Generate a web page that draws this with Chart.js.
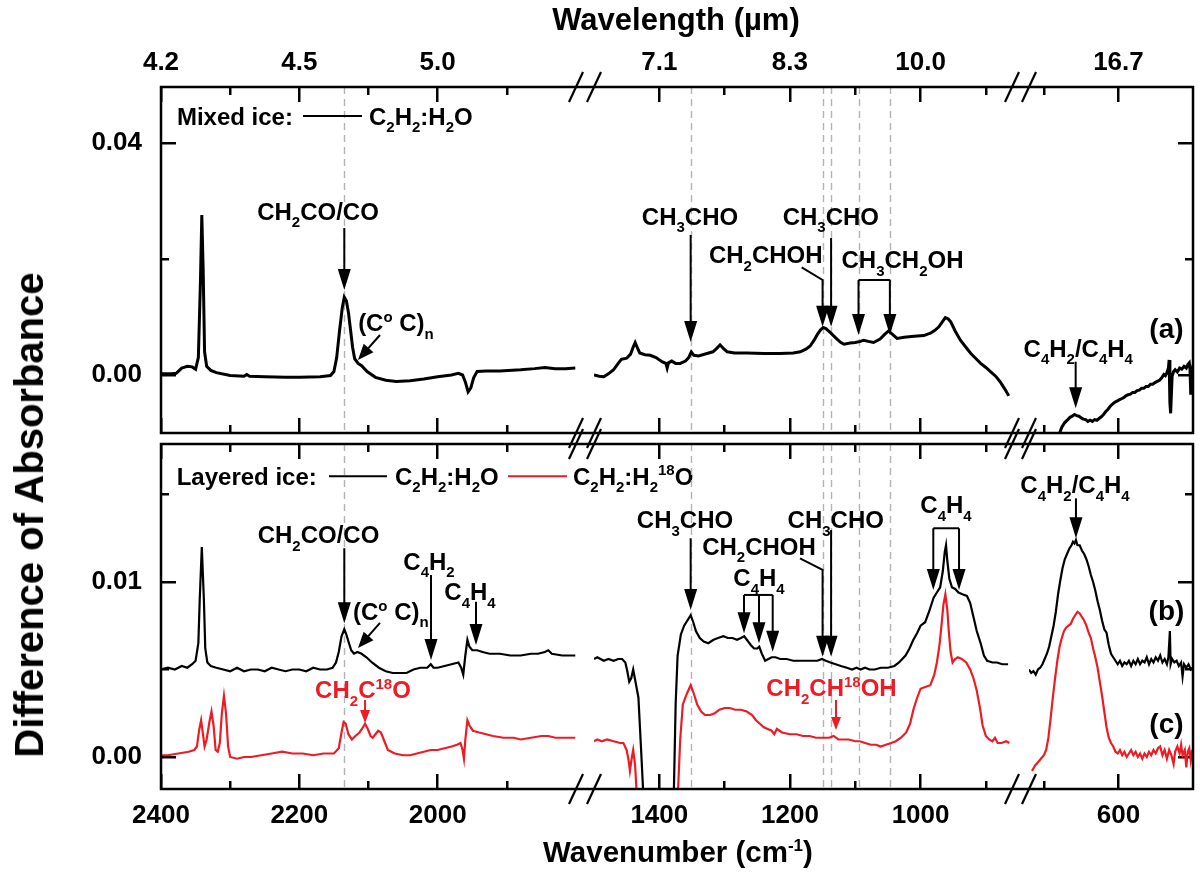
<!DOCTYPE html>
<html lang="en">
<head>
<meta charset="utf-8">
<title>C2H2:H2O ice difference spectra</title>
<style>
  body { margin: 0; background: #fff; }
  #wrap { position: relative; width: 1200px; height: 880px; overflow: hidden; background: #fff;
          font-family: "Liberation Sans", Arial, Helvetica, sans-serif; }
  #wrap canvas { position: absolute; left: 0; top: 0; }
  .ttl { position: absolute; z-index: 5; font-weight: bold; font-size: 31px; color: #000; white-space: nowrap;
         transform: translate(-50%, -50%); line-height: 1; }
  .ttl sup { font-size: 17px; vertical-align: 0.65em; line-height: 0; }
  #tX { font-size: 29.5px; }
  #tY { transform: translate(-50%, -50%) rotate(-90deg); font-size: 40px; }
</style>
</head>
<body>
<div id="wrap">
  <div class="ttl" style="left:676px; top:19px;">Wavelength (µm)</div>
  <div class="ttl" id="tX" style="left:678px; top:852px;">Wavenumber (cm<sup>-1</sup>)</div>
  <div class="ttl" id="tY" style="left:29px; top:515px;">Difference of Absorbance</div>
</div>

<script src="https://cdn.jsdelivr.net/npm/chart.js/dist/chart.umd.min.js"></script>
<script>
// ---- data ----
// ticks
const majorWn = [2400, 2200, 2000, 1400, 1200, 1000, 600];
const minorWn = [2300, 2100, 1900, 1300, 1100, 900, 700];
const wavelengthLabels = ['4.2', '4.5', '5.0', '7.1', '8.3', '10.0', '16.7'];
const yMajorTop = [0, 0.04];
const yMinorTop = [0.02];
const yMajorBot = [0, 0.01];
const yMinorBot = [0.005, 0.015];
// dashed guide lines
const markerWn = [2135, 1352, 1150, 1137, 1095, 1047];

// (a) mixed ice C2H2:H2O
const wnA1 = [2400,2385,2378,2370,2362,2355,2350,2346,2343,2341,2339,2337,2334,2328,2320,2300,2280,2276,2272,2250,2220,2200,2170,2155,2150,2146,2142,2138,2135,2132,2129,2126,2123,2120,2115,2110,2102,2090,2075,2060,2040,2020,2000,1980,1970,1964,1960,1956,1952,1948,1943,1930,1910,1880,1860,1845,1830,1815,1801];
const absA1 = [0.0002,0.0002,0.0003,0.0012,0.0015,0.0014,0.0010,0.0030,0.0160,0.0276,0.0180,0.0040,0.0015,0.0008,0.0004,-0.0001,-0.0002,0.0001,-0.0002,-0.0003,-0.0004,-0.0004,-0.0003,-0.0001,0.0006,0.0030,0.0075,0.0115,0.0134,0.0128,0.0108,0.0078,0.0048,0.0028,0.0020,0.0016,0.0006,-0.0004,-0.0009,-0.0011,-0.0010,-0.0007,-0.0003,0.0000,0.0003,0.0000,-0.0012,-0.0029,-0.0022,-0.0005,0.0006,0.0007,0.0007,0.0009,0.0011,0.0013,0.0011,0.0011,0.0012];
const wnA2 = [1500,1492,1485,1478,1470,1463,1458,1450,1444,1440,1437,1434,1430,1422,1414,1405,1396,1390,1388,1386,1381,1375,1368,1360,1355,1351,1347,1340,1327,1318,1312,1307,1302,1296,1285,1266,1240,1215,1195,1184,1175,1169,1163,1158,1153,1149,1145,1138,1130,1122,1117,1108,1100,1092,1087,1080,1072,1062,1055,1049,1043,1036,1025,1010,995,985,978,972,967,962,958,954,947,939,930,923,915,908,900,893,885,878,870,865];
const absA2 = [0.0000,-0.0002,-0.0003,0.0002,0.0009,0.0020,0.0027,0.0029,0.0036,0.0048,0.0056,0.0048,0.0038,0.0035,0.0034,0.0030,0.0023,0.0020,0.0012,0.0021,0.0024,0.0020,0.0020,0.0024,0.0030,0.0040,0.0034,0.0033,0.0037,0.0040,0.0046,0.0052,0.0046,0.0040,0.0038,0.0038,0.0037,0.0037,0.0038,0.0040,0.0045,0.0050,0.0060,0.0070,0.0078,0.0082,0.0080,0.0073,0.0064,0.0056,0.0053,0.0055,0.0056,0.0058,0.0060,0.0058,0.0056,0.0062,0.0070,0.0076,0.0070,0.0063,0.0065,0.0067,0.0068,0.0072,0.0077,0.0083,0.0091,0.0099,0.0097,0.0092,0.0076,0.0060,0.0047,0.0037,0.0028,0.0020,0.0013,0.0006,-0.0002,-0.0012,-0.0026,-0.0036];
const wnA3 = [684,680,676,672,668,665,662,659,656,653,650,647,644,641,638,635,632,629,626,623,620,617,614,611,608,605,602,599,596,593,590,587,584,581,578,575,572,569,566,563,560,557,554,551,548,545,542,539,537,535,533,532,531,530,528,526,524,521,518,515,512,509,507,505,504,503,502,501];
const absA3 = [-0.0125,-0.0104,-0.0090,-0.0082,-0.0077,-0.0073,-0.0071,-0.0068,-0.0070,-0.0071,-0.0074,-0.0076,-0.0077,-0.0080,-0.0078,-0.0080,-0.0077,-0.0078,-0.0075,-0.0072,-0.0068,-0.0063,-0.0059,-0.0054,-0.0050,-0.0047,-0.0045,-0.0043,-0.0041,-0.0039,-0.0036,-0.0034,-0.0033,-0.0030,-0.0030,-0.0027,-0.0026,-0.0023,-0.0023,-0.0020,-0.0020,-0.0016,-0.0016,-0.0013,-0.0011,-0.0009,-0.0005,0.0001,-0.0001,0.0004,0.0012,0.0026,-0.0048,-0.0066,-0.0002,0.0006,0.0009,0.0005,0.0012,0.0010,0.0015,0.0012,0.0018,0.0021,0.0010,-0.0034,0.0008,0.0004];

// (b) layered ice C2H2:H2O
const wnB1 = [2400,2390,2380,2370,2362,2355,2350,2346,2344,2341,2338,2336,2333,2328,2320,2310,2300,2290,2280,2270,2260,2250,2240,2230,2220,2210,2200,2190,2180,2170,2160,2152,2147,2143,2139,2135,2132,2129,2125,2121,2116,2110,2103,2095,2085,2075,2065,2055,2045,2035,2025,2015,2010,2006,2000,1990,1980,1970,1966,1963,1960,1957,1954,1950,1943,1935,1925,1910,1895,1880,1865,1855,1845,1840,1835,1820,1810,1801];
const absB1 = [0.0050,0.0051,0.0050,0.0052,0.0051,0.0053,0.0055,0.0065,0.0090,0.0120,0.0090,0.0062,0.0054,0.0052,0.0051,0.0050,0.0049,0.0051,0.0049,0.0050,0.0050,0.0049,0.0051,0.0050,0.0049,0.0050,0.0050,0.0049,0.0051,0.0050,0.0050,0.0051,0.0054,0.0060,0.0069,0.0073,0.0070,0.0066,0.0061,0.0059,0.0060,0.0059,0.0057,0.0054,0.0051,0.0049,0.0048,0.0048,0.0048,0.0050,0.0051,0.0051,0.0053,0.0051,0.0051,0.0052,0.0053,0.0054,0.0051,0.0047,0.0058,0.0067,0.0063,0.0061,0.0061,0.0060,0.0059,0.0059,0.0058,0.0058,0.0059,0.0059,0.0060,0.0061,0.0059,0.0058,0.0058,0.0058];
const wnB2 = [1500,1495,1490,1485,1478,1470,1463,1457,1452,1449,1446,1443,1440,1436,1432,1428,1424,1378,1375,1372,1367,1362,1357,1352,1348,1344,1338,1332,1325,1317,1310,1302,1295,1288,1281,1275,1270,1266,1260,1255,1250,1247,1243,1238,1233,1228,1222,1215,1205,1195,1185,1175,1165,1158,1151,1145,1138,1130,1122,1113,1105,1098,1092,1085,1078,1070,1061,1050,1040,1033,1028,1023,1017,1011,1005,1000,993,987,980,975,970,966,963,961,959,956,952,947,942,936,929,924,919,914,908,903,898,890,883,875,866];
const absB2 = [0.0056,0.0057,0.0056,0.0055,0.0056,0.0055,0.0056,0.0056,0.0054,0.0049,0.0043,0.0045,0.0050,0.0042,0.0034,0.0005,-0.0025,-0.0025,0.0030,0.0058,0.0070,0.0075,0.0078,0.0081,0.0077,0.0072,0.0068,0.0066,0.0065,0.0067,0.0068,0.0069,0.0068,0.0068,0.0067,0.0068,0.0069,0.0067,0.0064,0.0062,0.0062,0.0063,0.0059,0.0055,0.0056,0.0057,0.0057,0.0056,0.0056,0.0055,0.0055,0.0055,0.0055,0.0055,0.0056,0.0055,0.0054,0.0053,0.0052,0.0051,0.0050,0.0051,0.0050,0.0051,0.0050,0.0050,0.0051,0.0051,0.0052,0.0054,0.0056,0.0058,0.0062,0.0067,0.0071,0.0075,0.0077,0.0083,0.0091,0.0094,0.0097,0.0106,0.0117,0.0121,0.0112,0.0102,0.0097,0.0096,0.0094,0.0093,0.0092,0.0088,0.0080,0.0072,0.0065,0.0058,0.0055,0.0054,0.0054,0.0053,0.0053];
const wnB3 = [720,717,714,711,708,705,702,699,696,693,690,687,684,681,678,675,672,669,666,663,661,659,657,655,652,649,646,643,640,637,634,631,628,625,622,619,616,613,610,607,604,601,598,595,592,589,586,583,580,577,574,571,568,565,562,559,556,553,550,547,544,541,538,535,533,531,530,528,525,522,519,516,514,512,509,506,503,501];
const absB3 = [0.0050,0.0048,0.0049,0.0047,0.0050,0.0051,0.0053,0.0056,0.0059,0.0063,0.0069,0.0075,0.0083,0.0093,0.0101,0.0108,0.0113,0.0116,0.0119,0.0121,0.0123,0.0122,0.0124,0.0121,0.0121,0.0118,0.0116,0.0113,0.0109,0.0104,0.0100,0.0095,0.0089,0.0084,0.0078,0.0073,0.0071,0.0064,0.0059,0.0057,0.0055,0.0053,0.0055,0.0052,0.0054,0.0053,0.0055,0.0052,0.0055,0.0053,0.0056,0.0053,0.0055,0.0054,0.0057,0.0053,0.0056,0.0054,0.0057,0.0055,0.0058,0.0054,0.0056,0.0053,0.0057,0.0072,0.0053,0.0056,0.0054,0.0055,0.0052,0.0054,0.0046,0.0053,0.0051,0.0053,0.0050,0.0051];

// (c) layered ice C2H2:H2(18)O
const wnC1 = [2400,2390,2375,2360,2352,2348,2345,2342,2339,2337,2334,2330,2327,2324,2321,2318,2315,2312,2309,2306,2303,2300,2290,2280,2270,2255,2240,2225,2210,2195,2180,2165,2150,2143,2139,2136,2133,2129,2124,2119,2113,2108,2105,2101,2097,2094,2090,2086,2082,2077,2072,2062,2050,2040,2030,2020,2010,2000,1990,1980,1972,1967,1964,1962,1960,1957,1954,1949,1940,1930,1920,1905,1890,1880,1865,1850,1840,1830,1815,1801];
const absC1 = [0.0001,0.0001,0.0002,0.0003,0.0004,0.0006,0.0015,0.0021,0.0012,0.0006,0.0010,0.0020,0.0026,0.0018,0.0004,0.0003,0.0008,0.0025,0.0035,0.0025,0.0006,0.0000,-0.0001,0.0000,0.0000,0.0001,0.0002,0.0003,0.0002,0.0002,0.0001,0.0002,0.0002,0.0005,0.0014,0.0020,0.0019,0.0013,0.0010,0.0012,0.0014,0.0017,0.0019,0.0016,0.0012,0.0011,0.0013,0.0015,0.0014,0.0009,0.0004,0.0002,0.0001,0.0001,0.0002,0.0003,0.0004,0.0004,0.0005,0.0006,0.0007,0.0008,0.0004,-0.0001,0.0010,0.0021,0.0018,0.0015,0.0014,0.0013,0.0012,0.0011,0.0011,0.0010,0.0011,0.0012,0.0012,0.0011,0.0011,0.0011];
const wnC2 = [1500,1495,1488,1480,1470,1460,1455,1450,1447,1445,1442,1440,1437,1434,1372,1368,1364,1358,1352,1347,1342,1336,1330,1322,1315,1308,1300,1292,1284,1275,1266,1258,1252,1246,1240,1234,1228,1224,1220,1212,1200,1190,1180,1170,1160,1150,1140,1133,1126,1118,1110,1100,1093,1085,1076,1068,1061,1053,1045,1038,1030,1022,1016,1011,1006,1000,993,985,979,975,971,968,965,962,959,957,954,951,947,943,937,930,924,919,914,909,905,900,895,890,886,882,876,869,864];
const absC2 = [0.0009,0.0010,0.0009,0.0010,0.0009,0.0008,0.0008,0.0004,-0.0002,-0.0008,0.0000,0.0004,-0.0005,-0.0025,-0.0025,0.0010,0.0030,0.0036,0.0041,0.0036,0.0030,0.0026,0.0024,0.0024,0.0025,0.0027,0.0028,0.0028,0.0027,0.0027,0.0026,0.0024,0.0021,0.0019,0.0017,0.0016,0.0015,0.0013,0.0016,0.0014,0.0013,0.0013,0.0012,0.0012,0.0011,0.0011,0.0011,0.0012,0.0010,0.0010,0.0010,0.0009,0.0009,0.0008,0.0007,0.0007,0.0006,0.0007,0.0008,0.0009,0.0011,0.0014,0.0019,0.0027,0.0033,0.0039,0.0040,0.0041,0.0047,0.0054,0.0064,0.0075,0.0087,0.0093,0.0084,0.0073,0.0060,0.0054,0.0056,0.0057,0.0056,0.0054,0.0050,0.0045,0.0038,0.0028,0.0018,0.0012,0.0010,0.0009,0.0011,0.0008,0.0008,0.0009,0.0008];
const wnC3 = [716,712,708,704,700,697,694,691,688,685,682,679,676,673,670,667,664,661,658,655,652,649,646,643,640,637,634,631,628,625,622,619,616,613,610,607,604,601,598,595,592,589,586,583,580,577,574,571,568,565,562,559,556,553,550,547,544,541,538,535,532,529,526,524,521,518,516,514,511,509,507,505,503,501];
const absC3 = [-0.0008,-0.0005,-0.0003,-0.0001,0.0001,0.0004,0.0011,0.0022,0.0034,0.0045,0.0055,0.0063,0.0068,0.0072,0.0074,0.0075,0.0076,0.0079,0.0081,0.0083,0.0082,0.0080,0.0078,0.0075,0.0071,0.0068,0.0062,0.0057,0.0051,0.0043,0.0035,0.0026,0.0017,0.0011,0.0008,0.0006,0.0003,0.0002,0.0004,0.0001,0.0003,0.0000,0.0002,0.0004,0.0001,0.0003,0.0000,0.0002,-0.0001,0.0002,0.0000,0.0003,0.0001,0.0004,0.0002,0.0005,0.0006,0.0001,0.0004,-0.0001,0.0004,0.0001,-0.0004,0.0003,0.0006,0.0002,0.0007,0.0001,0.0004,-0.0006,0.0003,0.0005,-0.0002,0.0004];

// ---- layout ----
const W = 1200, H = 880;
const FONT = '"Liberation Sans", Arial, Helvetica, sans-serif';
const RED = 'rgb(237,28,36)';
// broken x axis: three pieces, two panels
const SEGS = [
  {min: 1800, max: 2400, left: 161, right: 576},
  {min: 860, max: 1500, left: 594, right: 1012},
  {min: 500, max: 720, left: 1029, right: 1193}
];
const PANELS = [
  {min: -0.0100, max: 0.04966, top: 87, bottom: 433, yMajor: yMajorTop, yMinor: yMinorTop},
  {min: -0.00183, max: 0.017886, top: 444, bottom: 789, yMajor: yMajorBot, yMinor: yMinorBot}
];

const traces = [
  {panel: 0, seg: 0, wn: wnA1, abs: absA1, color: '#000', width: 3},
  {panel: 0, seg: 1, wn: wnA2, abs: absA2, color: '#000', width: 3},
  {panel: 0, seg: 2, wn: wnA3, abs: absA3, color: '#000', width: 3},
  {panel: 1, seg: 0, wn: wnB1, abs: absB1, color: '#000', width: 2.2},
  {panel: 1, seg: 1, wn: wnB2, abs: absB2, color: '#000', width: 2.2},
  {panel: 1, seg: 2, wn: wnB3, abs: absB3, color: '#000', width: 2.2},
  {panel: 1, seg: 0, wn: wnC1, abs: absC1, color: RED, width: 2.2},
  {panel: 1, seg: 1, wn: wnC2, abs: absC2, color: RED, width: 2.2},
  {panel: 1, seg: 2, wn: wnC3, abs: absC3, color: RED, width: 2.2}
];

// annotations, in data coordinates (wavenumber, absorbance)
const T = (x, y, s, o = {}) => Object.assign({t: 'text', x, y, s, align: 'center'}, o);
const A = (pts, o = {}) => Object.assign({t: 'arrow', pts}, o);
const Ln = (pts, o = {}) => Object.assign({t: 'line', pts}, o);

const notes = [
  [
    [
      T(2377, 0.04453, 'Mixed ice:', {align: 'left'}),
      Ln([[2194.7, 0.04466], [2109.4, 0.04466]]),
      T(2099.3, 0.04453, 'C_{2}H_{2}:H_{2}O', {align: 'left'}),
      T(2173, 0.02816, 'CH_{2}CO/CO'),
      A([[2135, 0.02534], [2135, 0.01466]]),
      T(2115, 0.00897, '(C^{o} C)_{n}', {align: 'left'}),
      A([[2083.4, 0.0069], [2115.2, 0.0026]], {len: 16})
    ],
    [
      T(1353, 0.02729, 'CH_{3}CHO'),
      A([[1352, 0.02414], [1352, 0.00569]]),
      T(1237, 0.02069, 'CH_{2}CHOH'),
      A([[1182, 0.01857], [1150, 0.01638], [1150, 0.00833]]),
      T(1137.4, 0.02729, 'CH_{3}CHO'),
      A([[1137, 0.02362], [1137, 0.00833]]),
      T(1027.6, 0.01983, 'CH_{3}CH_{2}OH'),
      Ln([[1095, 0.01638], [1047, 0.01638]]),
      A([[1095, 0.01638], [1095, 0.0069]]),
      A([[1047, 0.01638], [1047, 0.0069]])
    ],
    [
      T(653.9, 0.0046, 'C_{4}H_{2}/C_{4}H_{4}'),
      A([[657.4, 0.00229], [657.4, -0.00574]]),
      T(535.6, 0.00805, '(a)', {size: 28})
    ]
  ],
  [
    [
      T(2377.3, 0.01602, 'Layered ice:', {align: 'left'}),
      Ln([[2157.1, 0.01605], [2073.3, 0.01605]]),
      T(2061.7, 0.01602, 'C_{2}H_{2}:H_{2}O', {align: 'left'}),
      Ln([[1898.3, 0.01605], [1813, 0.01605]], {color: RED}),
      T(1804.4, 0.01602, 'C_{2}H_{2}:H_{2}^{18}O', {align: 'left'}),
      T(2172.3, 0.01269, 'CH_{2}CO/CO'),
      A([[2135, 0.01193], [2135, 0.00764]]),
      T(2122.4, 0.0083, '(C^{o} C)_{n}', {align: 'left'}),
      A([[2083.4, 0.00766], [2115.2, 0.00623]], {len: 16}),
      T(2012.5, 0.01116, 'C_{4}H_{2}'),
      A([[2009.6, 0.0104], [2009.6, 0.00554]]),
      T(1953.3, 0.00943, 'C_{4}H_{4}'),
      A([[1944.6, 0.00887], [1944.6, 0.0064]]),
      T(2108, 0.00383, 'CH_{2}C^{18}O', {color: RED}),
      A([[2105, 0.00326], [2105, 0.00194]], {color: RED, len: 13, hw: 5})
    ],
    [
      T(1360.7, 0.01354, 'CH_{3}CHO'),
      A([[1352, 0.0125], [1352, 0.0084]]),
      T(1247.4, 0.01202, 'CH_{2}CHOH'),
      A([[1184.6, 0.01135], [1150, 0.01069], [1150, 0.00573]]),
      T(1129.8, 0.01354, 'CH_{3}CHO'),
      A([[1137, 0.01297], [1137, 0.00573]]),
      T(1247.4, 0.01023, 'C_{4}H_{4}'),
      Ln([[1270.3, 0.00926], [1226.4, 0.00926]]),
      A([[1270.3, 0.00926], [1270.3, 0.00707]]),
      A([[1247.4, 0.00926], [1247.4, 0.0065]]),
      A([[1226.4, 0.00926], [1226.4, 0.00602]]),
      T(961, 0.0144, 'C_{4}H_{4}'),
      Ln([[980.5, 0.01307], [941.1, 0.01307]]),
      A([[980.5, 0.01307], [980.5, 0.00954]]),
      A([[941.1, 0.01307], [941.1, 0.00954]]),
      T(1136.4, 0.00394, 'CH_{2}CH^{18}OH', {color: RED}),
      A([[1129.5, 0.00326], [1129.5, 0.00154]], {color: RED, len: 13, hw: 5})
    ],
    [
      T(658.3, 0.01554, 'C_{4}H_{2}/C_{4}H_{4}'),
      A([[657, 0.01478], [657, 0.0125]]),
      T(535.6, 0.0084, '(b)', {size: 28}),
      T(535.6, 0.00194, '(c)', {size: 28})
    ]
  ]
];

// ---- drawing helpers ----
function richText(ctx, str, x, y, size, align, color) {
  const parts = [];
  const re = /([_^])\{([^}]*)\}|([^_^]+)/g;
  let m;
  while ((m = re.exec(str))) {
    if (m[3]) parts.push({s: m[3], k: 0});
    else parts.push({s: m[2], k: m[1] === '_' ? 1 : -1});
  }
  const big = 'bold ' + size + 'px ' + FONT;
  const small = 'bold ' + Math.round(size * 0.64) + 'px ' + FONT;
  let w = 0;
  parts.forEach(p => { ctx.font = p.k ? small : big; p.w = ctx.measureText(p.s).width; w += p.w; });
  let cx = align === 'center' ? x - w / 2 : (align === 'right' ? x - w : x);
  const base = y + size * 0.35;
  ctx.fillStyle = color;
  ctx.textAlign = 'left';
  ctx.textBaseline = 'alphabetic';
  parts.forEach(p => {
    ctx.font = p.k ? small : big;
    const dy = p.k === 1 ? size * 0.3 : (p.k === -1 ? -size * 0.4 : 0);
    ctx.fillText(p.s, cx, base + dy);
    cx += p.w;
  });
}

function drawFrame(ctx, top, bottom) {
  const L = SEGS[0].left, R = SEGS[2].right;
  ctx.strokeStyle = '#000';
  ctx.setLineDash([]);
  ctx.lineWidth = 2.5;
  ctx.strokeRect(L, top, R - L, bottom - top);
  const breaks = [SEGS[0].right, SEGS[1].left, SEGS[1].right, SEGS[2].left];
  ctx.lineWidth = 2.2;
  [top, bottom].forEach(y => breaks.forEach(bx => {
    ctx.beginPath();
    ctx.moveTo(bx - 7, y + 15);
    ctx.lineTo(bx + 7, y - 15);
    ctx.stroke();
  }));
}

function makeDeco(list, frame) {
  return {
    id: 'deco',
    beforeDatasetsDraw(chart) {
      const {ctx, chartArea: a, scales: {x}} = chart;
      ctx.save();
      ctx.strokeStyle = '#b3b3b3';
      ctx.lineWidth = 1.4;
      ctx.setLineDash([7, 5]);
      markerWn.forEach(w => {
        if (w < x.min || w > x.max) return;
        const px = Math.round(x.getPixelForValue(w)) + 0.5;
        ctx.beginPath(); ctx.moveTo(px, a.top); ctx.lineTo(px, a.bottom); ctx.stroke();
      });
      ctx.restore();
    },
    afterDraw(chart) {
      const {ctx, chartArea: a, scales: {x, y}} = chart;
      const toPx = q => [x.getPixelForValue(q[0]), y.getPixelForValue(q[1])];
      ctx.save();
      list.forEach(n => {
        const col = n.color || '#000';
        if (n.t === 'text') {
          const [tx, ty] = toPx([n.x, n.y]);
          richText(ctx, n.s, tx, ty, n.size || 24, n.align, col);
          return;
        }
        const pts = n.pts.map(toPx);
        const len = n.len || 21, hw = n.hw || 6.5;
        let end = pts[pts.length - 1];
        let ang = 0;
        if (n.t === 'arrow') {
          const prev = pts[pts.length - 2];
          ang = Math.atan2(end[1] - prev[1], end[0] - prev[0]);
          end = [end[0] - (len - 2) * Math.cos(ang), end[1] - (len - 2) * Math.sin(ang)];
        }
        ctx.strokeStyle = col; ctx.fillStyle = col;
        ctx.lineWidth = 2; ctx.setLineDash([]);
        ctx.beginPath();
        ctx.moveTo(pts[0][0], pts[0][1]);
        for (let i = 1; i < pts.length - 1; i++) ctx.lineTo(pts[i][0], pts[i][1]);
        ctx.lineTo(end[0], end[1]);
        ctx.stroke();
        if (n.t === 'arrow') {
          const [tx, ty] = pts[pts.length - 1];
          const bx = tx - len * Math.cos(ang), by = ty - len * Math.sin(ang);
          ctx.beginPath();
          ctx.moveTo(tx, ty);
          ctx.lineTo(bx + hw * Math.sin(ang), by - hw * Math.cos(ang));
          ctx.lineTo(bx - hw * Math.sin(ang), by + hw * Math.cos(ang));
          ctx.closePath();
          ctx.fill();
        }
      });
      if (frame) drawFrame(ctx, a.top, a.bottom);
      ctx.restore();
    }
  };
}

// each scale gets a fixed box size; labelled scales take the whole margin,
// the others are zero-sized so their ticks sit on the plot edge
function axis(pos, list, len, showLabels, labelFn, pad, min, max, rev, show, size) {
  return {
    type: 'linear', position: pos, min: min, max: max, reverse: rev, display: show,
    weight: size > 0 ? 1 : 0,
    afterFit: sc => { if (sc.isHorizontal()) sc.height = size; else sc.width = size; },
    afterBuildTicks: sc => { sc.ticks = list.filter(v => v >= min && v <= max).map(v => ({value: v})); },
    grid: {drawOnChartArea: false, drawTicks: true, tickLength: -len, color: '#000', lineWidth: 2.5},
    border: {display: false},
    ticks: {
      display: showLabels, autoSkip: false, maxRotation: 0, minRotation: 0, padding: pad,
      color: '#000', font: {family: FONT, size: 26, weight: 'bold'},
      callback: labelFn || (() => '')
    }
  };
}

const wrap = document.getElementById('wrap');
const title = wrap.firstElementChild;

PANELS.forEach((pan, p) => SEGS.forEach((seg, s) => {
  const cv = document.createElement('canvas');
  cv.width = W; cv.height = H;
  cv.style.width = W + 'px'; cv.style.height = H + 'px';
  wrap.insertBefore(cv, title);

  const datasets = traces.filter(t => t.panel === p && t.seg === s).map(t => ({
    data: t.wn.map((w, i) => ({x: w, y: t.abs[i]})),
    borderColor: t.color,
    borderWidth: t.width,
    pointRadius: 0,
    fill: false,
    tension: 0,
    xAxisID: 'x',
    yAxisID: 'y'
  }));

  const botLab = p === 1 ? H - pan.bottom : 0;
  const topLab = p === 0 ? pan.top : 0;
  const leftLab = s === 0 ? seg.left : 0;

  new Chart(cv, {
    type: 'line',
    data: {datasets},
    options: {
      responsive: false,
      animation: false,
      events: [],
      layout: {padding: {
        left: seg.left - leftLab, right: W - seg.right,
        top: pan.top - topLab, bottom: H - pan.bottom - botLab
      }},
      plugins: {legend: {display: false}, tooltip: {enabled: false}},
      scales: {
        x: axis('bottom', majorWn, 15, p === 1, v => String(v), 26, seg.min, seg.max, true, true, botLab),
        xm: axis('bottom', minorWn, 8, false, null, 0, seg.min, seg.max, true, true, 0),
        xt: axis('top', majorWn, 15, p === 0, v => wavelengthLabels[majorWn.indexOf(v)], 24, seg.min, seg.max, true, true, topLab),
        xtm: axis('top', minorWn, 8, false, null, 0, seg.min, seg.max, true, true, 0),
        y: axis('left', pan.yMajor, 15, s === 0, v => v.toFixed(2), 34, pan.min, pan.max, false, s === 0, leftLab),
        ym: axis('left', pan.yMinor, 8, false, null, 0, pan.min, pan.max, false, s === 0, 0),
        yr: axis('right', pan.yMajor, 15, false, null, 0, pan.min, pan.max, false, s === 2, 0),
        yrm: axis('right', pan.yMinor, 8, false, null, 0, pan.min, pan.max, false, s === 2, 0)
      }
    },
    plugins: [makeDeco(notes[p][s], s === 2)]
  });
}));
</script>
</body>
</html>
